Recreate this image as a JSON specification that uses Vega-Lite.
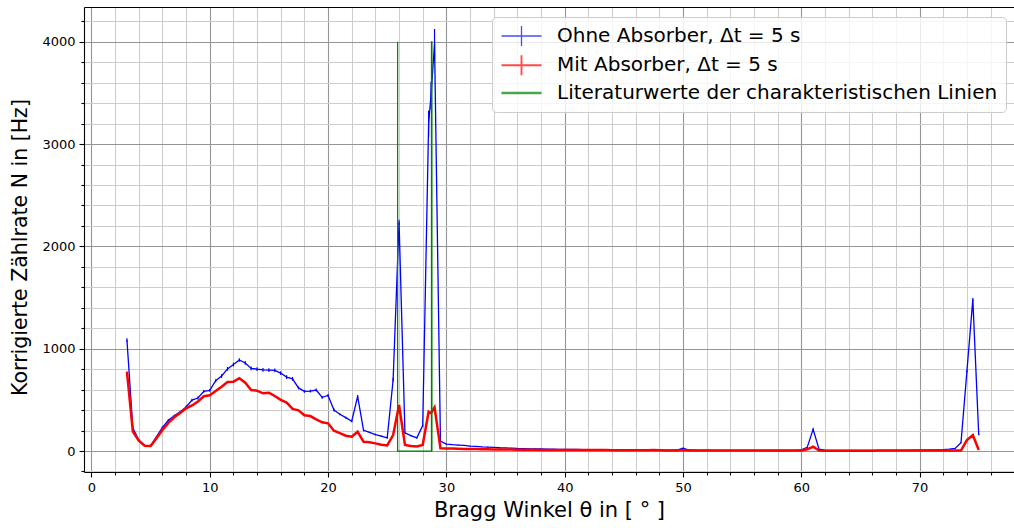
{
"$schema": "https://vega.github.io/schema/vega-lite/v6.json",
"width": 930, "height": 465,
"autosize": {"type": "none"},
"padding": {"left": 84, "top": 7, "right": 0, "bottom": 56},
"background": "white",
"config": {
 "view": {"stroke": null},
 "font": "DejaVu Sans",
 "axis": {"labelFont": "DejaVu Sans", "titleFont": "DejaVu Sans", "labelColor": "#000", "titleColor": "#000", "titleFontWeight": "normal", "domainColor": "#000", "tickColor": "#000", "domainWidth": 1.1, "tickWidth": 1.1}
},
"datasets": {
 "blue": [
{"theta":3,"N":1085,"err":18},{"theta":3.5,"N":225,"err":10},{"theta":4,"N":107,"err":7},{"theta":4.5,"N":52,"err":4},{"theta":5,"N":50,"err":4},{"theta":5.5,"N":140,"err":7},{"theta":6,"N":230,"err":10},{"theta":6.5,"N":300,"err":10},{"theta":7,"N":345,"err":10},{"theta":7.5,"N":384,"err":10},{"theta":8,"N":430,"err":14},{"theta":8.5,"N":497,"err":14},{"theta":9,"N":518,"err":14},{"theta":9.5,"N":583,"err":14},{"theta":10,"N":593,"err":14},{"theta":10.5,"N":687,"err":14},{"theta":11,"N":733,"err":18},{"theta":11.5,"N":803,"err":18},{"theta":12,"N":845,"err":18},{"theta":12.5,"N":890,"err":18},{"theta":13,"N":861,"err":18},{"theta":13.5,"N":808,"err":18},{"theta":14,"N":800,"err":18},{"theta":14.5,"N":794,"err":18},{"theta":15,"N":791,"err":18},{"theta":15.5,"N":788,"err":18},{"theta":16,"N":762,"err":18},{"theta":16.5,"N":723,"err":18},{"theta":17,"N":706,"err":18},{"theta":17.5,"N":617,"err":14},{"theta":18,"N":583,"err":14},{"theta":18.5,"N":586,"err":14},{"theta":19,"N":596,"err":14},{"theta":19.5,"N":525,"err":14},{"theta":20,"N":543,"err":14},{"theta":20.5,"N":401,"err":14},{"theta":21,"N":360,"err":10},{"theta":21.5,"N":326,"err":10},{"theta":22,"N":291,"err":10},{"theta":22.5,"N":534,"err":14},{"theta":23,"N":203,"err":10},{"theta":23.5,"N":182,"err":7},{"theta":24,"N":161,"err":7},{"theta":24.5,"N":145,"err":7},{"theta":25,"N":129,"err":7},{"theta":25.5,"N":697,"err":20},{"theta":26,"N":2235,"err":25},{"theta":26.5,"N":177,"err":7},{"theta":27,"N":150,"err":7},{"theta":27.5,"N":129,"err":7},{"theta":28,"N":248,"err":10},{"theta":28.5,"N":3199,"err":130},{"theta":28.7,"N":3475,"err":135},{"theta":29,"N":3980,"err":145},{"theta":29.5,"N":96,"err":4},{"theta":30,"N":68,"err":4},{"theta":30.5,"N":62,"err":4},{"theta":31,"N":58,"err":4},{"theta":31.5,"N":55,"err":4},{"theta":32,"N":48,"err":4},{"theta":32.5,"N":45,"err":4},{"theta":33,"N":40,"err":4},{"theta":33.5,"N":38,"err":4},{"theta":34,"N":36,"err":4},{"theta":34.5,"N":32,"err":4},{"theta":35,"N":30,"err":3},{"theta":35.5,"N":28,"err":3},{"theta":36,"N":25,"err":3},{"theta":36.5,"N":24,"err":3},{"theta":37,"N":22,"err":3},{"theta":37.5,"N":21,"err":3},{"theta":38,"N":20,"err":3},{"theta":38.5,"N":19,"err":3},{"theta":39,"N":18,"err":3},{"theta":39.5,"N":17,"err":3},{"theta":40,"N":16,"err":3},{"theta":40.5,"N":15,"err":3},{"theta":41,"N":15,"err":3},{"theta":41.5,"N":14,"err":3},{"theta":42,"N":13,"err":3},{"theta":42.5,"N":13,"err":3},{"theta":43,"N":12,"err":3},{"theta":43.5,"N":12,"err":3},{"theta":44,"N":11,"err":3},{"theta":44.5,"N":11,"err":3},{"theta":45,"N":10,"err":3},{"theta":45.5,"N":10,"err":3},{"theta":46,"N":9,"err":3},{"theta":46.5,"N":10,"err":3},{"theta":47,"N":9,"err":3},{"theta":47.5,"N":12,"err":3},{"theta":48,"N":9,"err":3},{"theta":48.5,"N":8,"err":3},{"theta":49,"N":8,"err":3},{"theta":49.5,"N":10,"err":3},{"theta":50,"N":28,"err":3},{"theta":50.5,"N":10,"err":3},{"theta":51,"N":8,"err":3},{"theta":51.5,"N":7,"err":3},{"theta":52,"N":8,"err":3},{"theta":52.5,"N":7,"err":3},{"theta":53,"N":7,"err":3},{"theta":53.5,"N":6,"err":3},{"theta":54,"N":7,"err":3},{"theta":54.5,"N":6,"err":3},{"theta":55,"N":6,"err":3},{"theta":55.5,"N":6,"err":3},{"theta":56,"N":7,"err":3},{"theta":56.5,"N":6,"err":3},{"theta":57,"N":5,"err":3},{"theta":57.5,"N":5,"err":3},{"theta":58,"N":5,"err":3},{"theta":58.5,"N":5,"err":3},{"theta":59,"N":6,"err":3},{"theta":59.5,"N":7,"err":3},{"theta":60,"N":12,"err":3},{"theta":60.5,"N":36,"err":4},{"theta":61,"N":212,"err":10},{"theta":61.5,"N":18,"err":3},{"theta":62,"N":8,"err":3},{"theta":62.5,"N":7,"err":3},{"theta":63,"N":6,"err":3},{"theta":63.5,"N":6,"err":3},{"theta":64,"N":5,"err":3},{"theta":64.5,"N":5,"err":3},{"theta":65,"N":5,"err":3},{"theta":65.5,"N":5,"err":3},{"theta":66,"N":5,"err":3},{"theta":66.5,"N":6,"err":3},{"theta":67,"N":6,"err":3},{"theta":67.5,"N":7,"err":3},{"theta":68,"N":6,"err":3},{"theta":68.5,"N":7,"err":3},{"theta":69,"N":7,"err":3},{"theta":69.5,"N":8,"err":3},{"theta":70,"N":8,"err":3},{"theta":70.5,"N":9,"err":3},{"theta":71,"N":10,"err":3},{"theta":71.5,"N":11,"err":3},{"theta":72,"N":13,"err":3},{"theta":72.5,"N":18,"err":3},{"theta":73,"N":26,"err":3},{"theta":73.5,"N":81,"err":4},{"theta":74,"N":780,"err":15},{"theta":74.5,"N":1480,"err":15},{"theta":75,"N":160,"err":7}
 ],
 "red": [
{"theta":3,"N":775},{"theta":3.5,"N":189},{"theta":4,"N":101},{"theta":4.5,"N":52},{"theta":5,"N":50},{"theta":5.5,"N":125},{"theta":6,"N":205},{"theta":6.5,"N":275},{"theta":7,"N":330},{"theta":7.5,"N":372},{"theta":8,"N":417},{"theta":8.5,"N":445},{"theta":9,"N":485},{"theta":9.5,"N":535},{"theta":10,"N":545},{"theta":10.5,"N":586},{"theta":11,"N":629},{"theta":11.5,"N":675},{"theta":12,"N":678},{"theta":12.5,"N":711},{"theta":13,"N":668},{"theta":13.5,"N":596},{"theta":14,"N":590},{"theta":14.5,"N":564},{"theta":15,"N":570},{"theta":15.5,"N":538},{"theta":16,"N":500},{"theta":16.5,"N":474},{"theta":17,"N":412},{"theta":17.5,"N":398},{"theta":18,"N":350},{"theta":18.5,"N":342},{"theta":19,"N":310},{"theta":19.5,"N":281},{"theta":20,"N":271},{"theta":20.5,"N":198},{"theta":21,"N":175},{"theta":21.5,"N":150},{"theta":22,"N":140},{"theta":22.5,"N":189},{"theta":23,"N":90},{"theta":23.5,"N":85},{"theta":24,"N":75},{"theta":24.5,"N":62},{"theta":25,"N":55},{"theta":25.5,"N":156},{"theta":26,"N":450},{"theta":26.5,"N":59},{"theta":27,"N":50},{"theta":27.5,"N":45},{"theta":28,"N":59},{"theta":28.5,"N":384},{"theta":28.7,"N":371},{"theta":29,"N":427},{"theta":29.5,"N":26},{"theta":30,"N":25},{"theta":30.5,"N":24},{"theta":31,"N":22},{"theta":31.5,"N":21},{"theta":32,"N":20},{"theta":32.5,"N":19},{"theta":33,"N":18},{"theta":33.5,"N":17},{"theta":34,"N":16},{"theta":34.5,"N":15},{"theta":35,"N":15},{"theta":35.5,"N":14},{"theta":36,"N":13},{"theta":36.5,"N":13},{"theta":37,"N":12},{"theta":37.5,"N":12},{"theta":38,"N":11},{"theta":38.5,"N":11},{"theta":39,"N":11},{"theta":39.5,"N":10},{"theta":40,"N":10},{"theta":40.5,"N":10},{"theta":41,"N":10},{"theta":41.5,"N":9},{"theta":42,"N":9},{"theta":42.5,"N":9},{"theta":43,"N":9},{"theta":43.5,"N":9},{"theta":44,"N":8},{"theta":44.5,"N":8},{"theta":45,"N":8},{"theta":45.5,"N":8},{"theta":46,"N":7},{"theta":46.5,"N":7},{"theta":47,"N":7},{"theta":47.5,"N":9},{"theta":48,"N":7},{"theta":48.5,"N":6},{"theta":49,"N":6},{"theta":49.5,"N":6},{"theta":50,"N":10},{"theta":50.5,"N":6},{"theta":51,"N":5},{"theta":51.5,"N":5},{"theta":52,"N":5},{"theta":52.5,"N":5},{"theta":53,"N":5},{"theta":53.5,"N":5},{"theta":54,"N":5},{"theta":54.5,"N":4},{"theta":55,"N":4},{"theta":55.5,"N":4},{"theta":56,"N":5},{"theta":56.5,"N":4},{"theta":57,"N":4},{"theta":57.5,"N":4},{"theta":58,"N":4},{"theta":58.5,"N":4},{"theta":59,"N":4},{"theta":59.5,"N":4},{"theta":60,"N":6},{"theta":60.5,"N":17},{"theta":61,"N":42},{"theta":61.5,"N":4},{"theta":62,"N":3},{"theta":62.5,"N":3},{"theta":63,"N":3},{"theta":63.5,"N":3},{"theta":64,"N":3},{"theta":64.5,"N":3},{"theta":65,"N":3},{"theta":65.5,"N":3},{"theta":66,"N":3},{"theta":66.5,"N":4},{"theta":67,"N":4},{"theta":67.5,"N":4},{"theta":68,"N":4},{"theta":68.5,"N":4},{"theta":69,"N":4},{"theta":69.5,"N":4},{"theta":70,"N":4},{"theta":70.5,"N":4},{"theta":71,"N":4},{"theta":71.5,"N":4},{"theta":72,"N":4},{"theta":72.5,"N":4},{"theta":73,"N":4},{"theta":73.5,"N":5},{"theta":74,"N":107},{"theta":74.5,"N":156},{"theta":75,"N":10}
 ],
 "green": [
{"theta":25.88,"N":4000,"o":1},{"theta":25.88,"N":0,"o":2},{"theta":28.74,"N":0,"o":3},{"theta":28.74,"N":4000,"o":4},{"theta":28.78,"N":4000,"o":5},{"theta":28.78,"N":0,"o":6}
 ],
 "leg": [
{"series":"Ohne Absorber, Δt = 5 s"},{"series":"Mit Absorber, Δt = 5 s"},{"series":"Literaturwerte der charakteristischen Linien"}
 ]
},
"layer": [
 {
  "data": {"name": "blue"},
  "mark": {"type": "line", "color": "#0000ff", "strokeWidth": 1.3},
  "encoding": {
   "x": {"field": "theta", "type": "quantitative", "scale": {"domain": [-0.63, 77.98], "nice": false, "zero": false},
     "axis": {"values": [0,10,20,30,40,50,60,70], "title": "Bragg Winkel θ in [ ° ]", "titleFontSize": 21, "labelFontSize": 13, "tickSize": 5, "labelPadding": 4, "titlePadding": 5, "grid": true, "gridColor": "#959595", "gridWidth": 1.1, "labelFlush": false}},
   "y": {"field": "N", "type": "quantitative", "scale": {"domain": [-205, 4340], "nice": false, "zero": false},
     "axis": {"values": [0,1000,2000,3000,4000], "format": "d", "title": "Korrigierte Zählrate N in [Hz]", "titleFontSize": 20.5, "titleY": 240, "labelFontSize": 13, "tickSize": 5, "labelPadding": 4, "titlePadding": 11, "grid": true, "gridColor": "#959595", "gridWidth": 1.1, "labelFlush": false}}
  }
 },
 {
  "data": {"name": "blue"},
  "mark": {"type": "errorbar", "color": "#0000ff", "thickness": 1.2},
  "encoding": {
   "x": {"field": "theta", "type": "quantitative", "scale": {"domain": [-0.63, 77.98], "nice": false, "zero": false}, "axis": null},
   "y": {"field": "N", "type": "quantitative", "scale": {"domain": [-205, 4340], "nice": false, "zero": false}, "axis": null},
   "yError": {"field": "err"}
  }
 },
 {
  "data": {"name": "red"},
  "mark": {"type": "line", "color": "#ff0000", "strokeWidth": 2.5},
  "encoding": {
   "x": {"field": "theta", "type": "quantitative", "scale": {"domain": [-0.63, 77.98], "nice": false, "zero": false},
     "axis": {"orient": "top", "labels": false, "ticks": false, "grid": false, "domain": true, "title": null}},
   "y": {"field": "N", "type": "quantitative", "scale": {"domain": [-205, 4340], "nice": false, "zero": false}, "axis": null}
  }
 },
 {
  "data": {"name": "green"},
  "mark": {"type": "line", "color": "#008000", "strokeWidth": 1.2},
  "encoding": {
   "x": {"field": "theta", "type": "quantitative", "scale": {"domain": [-0.63, 77.98], "nice": false, "zero": false},
     "axis": {"orient": "bottom", "values": [2,4,6,8,12,14,16,18,22,24,26,28,32,34,36,38,42,44,46,48,52,54,56,58,62,64,66,68,72,74,76], "labels": false, "title": null, "domain": false, "tickSize": 3, "grid": true, "gridColor": "#cdcdcd", "gridWidth": 1.1}},
   "y": {"field": "N", "type": "quantitative", "scale": {"domain": [-205, 4340], "nice": false, "zero": false},
     "axis": {"orient": "left", "values": [-200,200,400,600,800,1200,1400,1600,1800,2200,2400,2600,2800,3200,3400,3600,3800,4200], "labels": false, "title": null, "domain": false, "tickSize": 3, "grid": true, "gridColor": "#cdcdcd", "gridWidth": 1.1}},
   "order": {"field": "o", "type": "quantitative"}
  }
 },
 {
  "data": {"name": "leg"},
  "transform": [{"filter": "false"}],
  "mark": {"type": "point", "filled": false},
  "encoding": {
   "color": {"field": "series", "type": "nominal",
     "scale": {"domain": ["Ohne Absorber, Δt = 5 s", "Mit Absorber, Δt = 5 s", "Literaturwerte der charakteristischen Linien"], "range": ["#0000ff", "#ff0000", "#008000"]},
     "legend": {"title": null, "orient": "none", "legendX": 408, "legendY": 10, "labelFont": "DejaVu Sans", "labelFontSize": 20, "labelColor": "#000", "symbolSize": 400, "labelOffset": 34, "rowPadding": 2.3, "padding": 8, "fillColor": "rgba(255,255,255,0.8)", "strokeColor": "#cccccc", "cornerRadius": 4, "labelLimit": 1000}},
   "shape": {"field": "series", "type": "nominal",
     "scale": {"domain": ["Ohne Absorber, Δt = 5 s", "Mit Absorber, Δt = 5 s", "Literaturwerte der charakteristischen Linien"], "range": ["M-1,0H3M1,-1V1", "M-1,0H3M1,-1V1", "M-1,0H3"]},
     "legend": {"title": null, "orient": "none", "legendX": 408, "legendY": 10, "labelFont": "DejaVu Sans", "labelFontSize": 20, "labelColor": "#000", "symbolSize": 400, "labelOffset": 34, "rowPadding": 2.3, "padding": 8, "fillColor": "rgba(255,255,255,0.8)", "strokeColor": "#cccccc", "cornerRadius": 4, "labelLimit": 1000}},
   "strokeWidth": {"field": "series", "type": "nominal",
     "scale": {"domain": ["Ohne Absorber, Δt = 5 s", "Mit Absorber, Δt = 5 s", "Literaturwerte der charakteristischen Linien"], "range": [1.3, 2.5, 1]},
     "legend": {"title": null, "orient": "none", "legendX": 408, "legendY": 10, "labelFont": "DejaVu Sans", "labelFontSize": 20, "labelColor": "#000", "symbolSize": 400, "labelOffset": 34, "rowPadding": 2.3, "padding": 8, "fillColor": "rgba(255,255,255,0.8)", "strokeColor": "#cccccc", "cornerRadius": 4, "labelLimit": 1000}}
  }
 }
],
"resolve": {"axis": {"x": "independent", "y": "independent"}}
}
